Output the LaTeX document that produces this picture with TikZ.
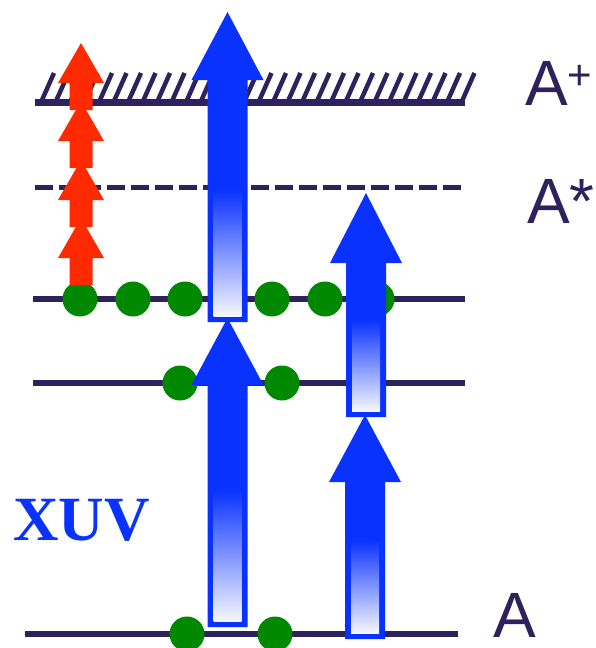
\documentclass[tikz,border=0pt]{standalone}
\usepackage{fontspec}
\newfontfamily\levelfont{Liberation Sans}
\newfontfamily\xuvfont{Liberation Serif}
\usetikzlibrary{calc}
\definecolor{levelnavy}{RGB}{46,34,94}
\definecolor{xuvblue}{RGB}{10,50,255}
\definecolor{irred}{RGB}{255,42,0}
\definecolor{popgreen}{RGB}{0,136,0}
\tikzset{
  level/.style={draw=levelnavy, line width=6pt},
  ionlevel/.style={draw=levelnavy, line width=7pt},
  hatch/.style={draw=levelnavy, line width=4.5pt},
  virtlevel/.style={draw=levelnavy, line width=5pt, dash pattern=on 18pt off 6pt},
  pop/.style={circle, fill=popgreen, minimum size=35pt, inner sep=0pt},
  xuvarrow/.style={fill=xuvblue},
  xuvgrad/.style={top color=xuvblue, bottom color=xuvblue!4},
  irarrow/.style={fill=irred},
  levellabel/.style={anchor=base west, inner sep=0pt, text=levelnavy, font=\levelfont\fontsize{64}{64}\selectfont},
  xuvlabel/.style={anchor=base west, inner sep=0pt, text=xuvblue, font=\xuvfont\bfseries\fontsize{63}{63}\selectfont}
}

\begin{document}
\begin{tikzpicture}[x=1pt, y=-1pt]
\useasboundingbox (0,0) rectangle (596,648);

% levels
\coordinate (ionL) at (35,102);   \coordinate (ionR) at (465,102);
\coordinate (virtL) at (35,187);  \coordinate (virtR) at (462,187);
\coordinate (upL) at (33,299);    \coordinate (upR) at (465,299);
\coordinate (midL) at (33,383);   \coordinate (midR) at (465,383);
\coordinate (gndL) at (25,634);   \coordinate (gndR) at (458,634);

\draw[ionlevel] (ionL) -- (ionR);
\foreach \k in {0,...,29}
  \draw[hatch] ($(ionL)+(7+14.5*\k,-2)$) -- ++(12,-27);
\draw[virtlevel] (virtL) -- (virtR);
\draw[level] (upL) -- (upR);
\draw[level] (midL) -- (midR);
\draw[level] (gndL) -- (gndR);

% populations
\foreach \x [count=\i] in {80,133,185,272,325,377}
  \node[pop] (up\i) at (\x,299) {};
\foreach \x [count=\i] in {180,282}
  \node[pop] (mid\i) at (\x,383) {};
\foreach \x [count=\i] in {187,275}
  \node[pop] (gnd\i) at (\x,634) {};

% XUV arrows: centre / bottom / head base / tip / start of gradient
\foreach \cx/\yb/\yh/\yt/\yg in {227.5/627/385/318/490, 227.5/322/80/12/190, 365/639/482/415/540, 366/417/263/193/320}{
  \fill[xuvarrow] (\cx-20,\yb) -- (\cx-20,\yh) -- (\cx-36,\yh) -- (\cx,\yt)
    -- (\cx+36,\yh) -- (\cx+20,\yh) -- (\cx+20,\yb) -- cycle;
  \shade[xuvgrad] (\cx-14,\yb-6) rectangle (\cx+14,\yg);
}

% IR photons
\foreach \yb in {285,227,168,110}
  \fill[irarrow] (69.5,\yb) -- (69.5,\yb-27) -- (58,\yb-27) -- (81,\yb-67)
    -- (104,\yb-27) -- (92.5,\yb-27) -- (92.5,\yb) -- cycle;

% labels
\node[levellabel] (ionlabel) at (525,105) {A\raisebox{16pt}{\fontsize{42}{42}\selectfont +}};
\node[levellabel] (virtlabel) at (527,223) {A*};
\node[levellabel] (gndlabel) at (493,637) {A};
\node[xuvlabel] (xuv) at (13,540) {XUV};
\end{tikzpicture}
\end{document}
